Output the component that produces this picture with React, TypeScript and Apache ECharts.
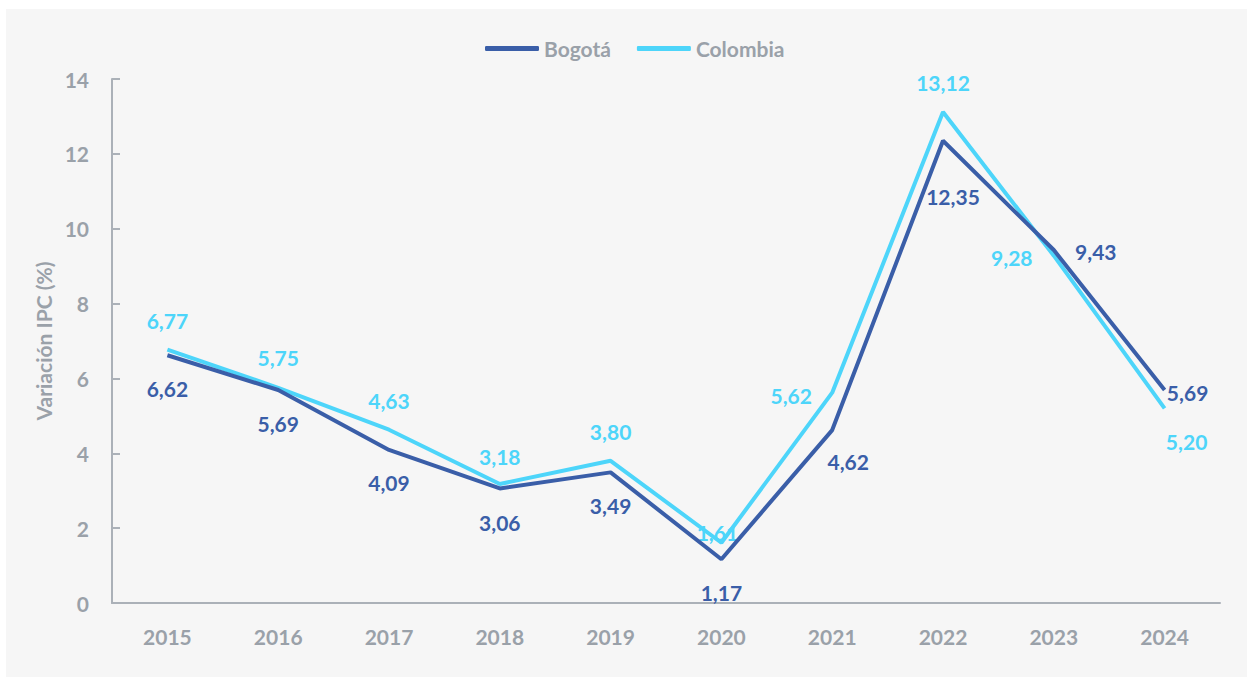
import React, { useEffect, useRef } from "react";
import * as echarts from "echarts";

const years = ["2015", "2016", "2017", "2018", "2019", "2020", "2021", "2022", "2023", "2024"];
const bogota = [6.62, 5.69, 4.09, 3.06, 3.49, 1.17, 4.62, 12.35, 9.43, 5.69];
const colombia = [6.77, 5.75, 4.63, 3.18, 3.8, 1.61, 5.62, 13.12, 9.28, 5.2];
const seriesNames = ["Bogotá", "Colombia"];
const yAxisName = "Variación IPC (%)";

const BLUE = "#3a5ea8";
const CYAN = "#4dd5fa";
const GRAY = "#9aa1a9";
const AXIS = "#abb1b8";
const FONT = "Lato, 'Noto Sans', sans-serif";

// label offsets (center relative to point), styling only
const bogotaOffsets: number[][] = [
  [0, 33], [0, 33], [0, 33], [0, 34], [0, 33], [0, 33], [16, 31], [10, 56], [42, 1], [23, 2],
];
const colombiaOffsets: number[][] = [
  [0, -29], [0, -30], [0, -29], [0, -27], [0, -29], [-4, -10], [-41, 3], [0, -29], [-42, 2], [22, 33],
];

const fmt = (v: number) => v.toFixed(2).replace(".", ",");

function buildData(values: number[], offsets: number[][], color: string) {
  return values.map((v, i) => ({
    value: v,
    label: {
      show: true,
      position: "inside",
      offset: offsets[i],
      formatter: () => fmt(v),
      color,
      fontFamily: FONT,
      fontWeight: "bold",
      fontSize: 21,
    },
  }));
}

export default function App() {
  const ref = useRef<HTMLDivElement>(null);
  useEffect(() => {
    if (!ref.current) return;
    const chart = echarts.init(ref.current, null, { renderer: "svg" });
    chart.setOption({
      animation: false,
      backgroundColor: "#f6f6f6",
      legend: {
        top: 24,
        left: 474,
        icon: "roundRect",
        itemWidth: 54,
        itemHeight: 5,
        itemGap: 26,
        textStyle: { color: GRAY, fontFamily: FONT, fontWeight: "bold", fontSize: 21, padding: [0, 0, 0, 0] },
        data: seriesNames,
      },
      grid: { left: 106, right: 27, top: 70, bottom: 74 },
      xAxis: {
        type: "category",
        data: years,
        boundaryGap: true,
        axisLine: { show: true, lineStyle: { color: AXIS, width: 2 } },
        axisTick: { show: false },
        axisLabel: { color: GRAY, fontFamily: FONT, fontWeight: "bold", fontSize: 21, margin: 23 },
      },
      yAxis: {
        type: "value",
        min: 0,
        max: 14,
        interval: 2,
        name: yAxisName,
        nameLocation: "middle",
        nameRotate: 90,
        nameGap: 55,
        nameTextStyle: { color: GRAY, fontFamily: FONT, fontWeight: "bold", fontSize: 21 },
        axisLine: { show: true, lineStyle: { color: AXIS, width: 2 } },
        axisTick: { show: true, inside: true, length: 8, lineStyle: { color: AXIS, width: 2 } },
        splitLine: { show: false },
        axisLabel: { color: GRAY, fontFamily: FONT, fontWeight: "bold", fontSize: 21, margin: 23 },
      },
      series: [
        {
          name: seriesNames[0],
          type: "line",
          data: buildData(bogota, bogotaOffsets, BLUE),
          color: BLUE,
          symbol: "circle",
          symbolSize: 0,
          showSymbol: true,
          lineStyle: { color: BLUE, width: 4 },
          itemStyle: { color: BLUE },
          z: 3,
        },
        {
          name: seriesNames[1],
          type: "line",
          data: buildData(colombia, colombiaOffsets, CYAN),
          color: CYAN,
          symbol: "circle",
          symbolSize: 0,
          showSymbol: true,
          lineStyle: { color: CYAN, width: 4 },
          itemStyle: { color: CYAN },
          z: 2,
        },
      ],
    });
    return () => chart.dispose();
  }, []);
  return (
    <div style={{ position: "fixed", left: 0, top: 0, width: 1247, height: 677, background: "#ffffff" }}>
      <div ref={ref} style={{ position: "absolute", left: 6, top: 9, width: 1241, height: 668 }} />
    </div>
  );
}
